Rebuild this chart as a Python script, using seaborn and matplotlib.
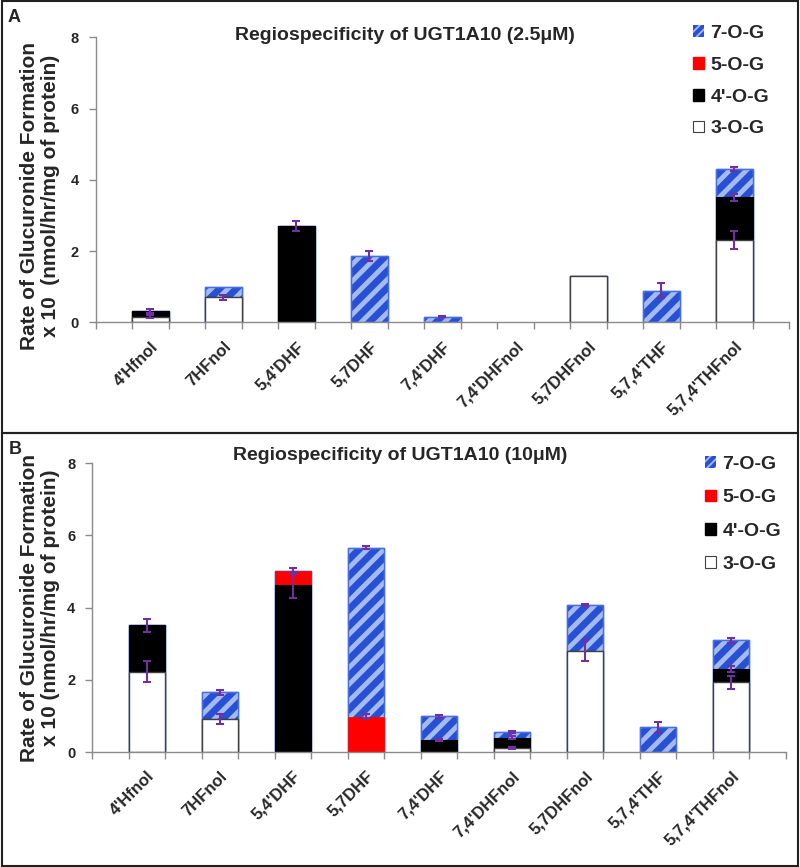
import numpy as np
import pandas as pd
import matplotlib
matplotlib.use("Agg")
import matplotlib.pyplot as plt
import matplotlib.patches as mpatches
import seaborn as sns

# ---------------- data ----------------
categories = ["4'Hfnol", "7HFnol", "5,4'DHF", "5,7DHF", "7,4'DHF",
              "7,4'DHFnol", "5,7DHFnol", "5,7,4'THF", "5,7,4'THFnol"]
series_names = ["3-O-G", "4'-O-G", "5-O-G", "7-O-G"]

# Panel A (2.5 uM) – segment heights
a_3og = [0.16, 0.70, 0.00, 0.00, 0.00, 0.00, 1.30, 0.00, 2.31]
a_4og = [0.15, 0.00, 2.71, 0.00, 0.00, 0.00, 0.00, 0.00, 1.20]
a_5og = [0.00, 0.00, 0.00, 0.00, 0.00, 0.00, 0.00, 0.00, 0.00]
a_7og = [0.00, 0.30, 0.00, 1.86, 0.16, 0.00, 0.00, 0.89, 0.79]
# Panel A errors (at cumulative segment tops)
a_3og_err = [0.04, 0.07, 0.00, 0.00, 0.00, 0.00, 0.00, 0.00, 0.25]
a_4og_err = [0.05, 0.00, 0.14, 0.00, 0.00, 0.00, 0.00, 0.00, 0.10]
a_5og_err = [0.00, 0.00, 0.00, 0.00, 0.00, 0.00, 0.00, 0.00, 0.00]
a_7og_err = [0.00, 0.00, 0.00, 0.15, 0.02, 0.00, 0.00, 0.22, 0.05]

# Panel B (10 uM)
b_3og = [2.23, 0.91, 0.00, 0.00, 0.00, 0.11, 2.81, 0.00, 1.93]
b_4og = [1.28, 0.00, 4.63, 0.00, 0.33, 0.29, 0.00, 0.00, 0.37]
b_5og = [0.00, 0.00, 0.39, 0.98, 0.00, 0.00, 0.00, 0.00, 0.00]
b_7og = [0.00, 0.74, 0.00, 4.68, 0.66, 0.16, 1.26, 0.69, 0.79]
b_3og_err = [0.30, 0.14, 0.00, 0.00, 0.00, 0.02, 0.30, 0.00, 0.18]
b_4og_err = [0.18, 0.00, 0.37, 0.00, 0.02, 0.03, 0.00, 0.00, 0.08]
b_5og_err = [0.00, 0.00, 0.09, 0.07, 0.00, 0.00, 0.00, 0.00, 0.00]
b_7og_err = [0.00, 0.06, 0.00, 0.04, 0.04, 0.03, 0.03, 0.15, 0.08]

y_ticks = [0, 2, 4, 6, 8]
legend_labels = ["7-O-G", "5-O-G", "4'-O-G", "3-O-G"]

# ---------------- style ----------------
sns.set_theme(style="white")
plt.rcParams["font.family"] = ["Liberation Sans", "DejaVu Sans"]
plt.rcParams["font.weight"] = "bold"
plt.rcParams["hatch.linewidth"] = 3.5

BLUE = "#2850d4"
STRIPE = "#a3bbef"
BLUE_EDGE = "#4a6ee0"
ERR = "#7030a0"
AXC = "#8a8a8a"

fig = plt.figure(figsize=(8, 8.67), dpi=100)
W, H = 800.0, 867.0


def fax(x0, y0, x1, y1):
    return fig.add_axes([x0 / W, 1 - y1 / H, (x1 - x0) / W, (y1 - y0) / H])


axA = fax(95.7, 37.3, 789, 322.3)
axB = fax(92, 463.3, 786, 752)


def draw_panel(ax, segs, errs, title, title_xy, ylabel, ylab_xy,
               legend_xy, lspacing):
    segs = np.array(segs)
    errs = np.array(errs)
    cum = np.cumsum(segs, axis=0)
    df = pd.DataFrame({"cat": categories})
    face = ["white", "black", "#ff0000", BLUE]
    edge = ["#404040", "black", "#ff0000", BLUE_EDGE]
    lw = [1.0, 0.8, 0.5, 1.0]
    for i in reversed(range(4)):
        df["v"] = cum[i]
        n0 = len(ax.patches)
        sns.barplot(data=df, x="cat", y="v", order=categories, width=0.5,
                    color=face[i], saturation=1, errorbar=None, ax=ax)
        for p in ax.patches[n0:]:
            p.set_facecolor(face[i])
            p.set_edgecolor(edge[i])
            p.set_linewidth(lw[i])
            if p.get_height() <= 0:
                p.set_visible(False)
        if i == 3:
            # stripe overlay for 7-O-G
            n1 = len(ax.patches)
            sns.barplot(data=df, x="cat", y="v", order=categories, width=0.5,
                        color=BLUE, saturation=1, errorbar=None, ax=ax)
            for p in ax.patches[n1:]:
                p.set_facecolor("none")
                p.set_edgecolor(STRIPE)
                p.set_hatch("//")
                p.set_linewidth(0)
                if p.get_height() <= 0:
                    p.set_visible(False)
            n2 = len(ax.patches)
            sns.barplot(data=df, x="cat", y="v", order=categories, width=0.5,
                        color=BLUE, saturation=1, errorbar=None, ax=ax)
            for p in ax.patches[n2:]:
                p.set_facecolor("none")
                p.set_edgecolor(BLUE_EDGE)
                p.set_linewidth(1.0)
                if p.get_height() <= 0:
                    p.set_visible(False)
    x = np.arange(len(categories))
    for i in range(4):
        m = errs[i] > 0
        if m.any():
            ax.errorbar(x[m], cum[i][m], yerr=errs[i][m], fmt="none",
                        ecolor=ERR, elinewidth=1.5, capsize=3, capthick=1.5,
                        zorder=5)
    ax.set_xlim(-0.75, len(categories) - 0.25)
    ax.set_ylim(0, 8)
    ax.set_yticks(y_ticks)
    ax.set_yticklabels([str(t) for t in y_ticks], fontsize=10.5,
                       fontweight="bold")
    ax.set_xticks(x)
    ax.set_xticklabels(categories, rotation=45, ha="right", va="top",
                       rotation_mode="anchor", fontsize=12, fontweight="bold")
    ax.set_xticks(np.arange(-0.75, len(categories) - 0.2, 0.5), minor=True)
    ax.tick_params(axis="x", which="major", length=0, pad=12)
    ax.tick_params(axis="x", which="minor", length=5, color=AXC, width=1,
                   direction="out", bottom=True)
    ax.tick_params(axis="y", length=5, color=AXC, width=1, direction="out",
                   left=True, pad=7)
    for s in ["top", "right"]:
        ax.spines[s].set_visible(False)
    for s in ["left", "bottom"]:
        ax.spines[s].set_color(AXC)
        ax.spines[s].set_linewidth(1.0)
    ax.set_xlabel("")
    ax.set_ylabel(ylabel, fontsize=15, fontweight="bold", linespacing=1.15)
    ax.yaxis.set_label_coords(*ylab_xy)
    fig.text(title_xy[0] / W, 1 - title_xy[1] / H, title, ha="center",
             va="center", fontsize=14, fontweight="bold")
    with plt.rc_context({"hatch.linewidth": 1.3}):
        handles = [
            mpatches.Patch(facecolor=BLUE, edgecolor=STRIPE, hatch="////",
                           linewidth=0),
            mpatches.Patch(facecolor="#ff0000", edgecolor="#ff0000"),
            mpatches.Patch(facecolor="black", edgecolor="black"),
            mpatches.Patch(facecolor="white", edgecolor="#404040",
                           linewidth=0.8),
        ]
        fig.legend(handles, legend_labels, loc="upper left",
                   bbox_to_anchor=(legend_xy[0] / W, 1 - legend_xy[1] / H),
                   frameon=False, handlelength=0.55, handleheight=0.55,
                   handletextpad=0.35, labelspacing=lspacing,
                   borderpad=0, borderaxespad=0,
                   prop={"weight": "bold", "size": 14})


draw_panel(axA,
           [a_3og, a_4og, a_5og, a_7og],
           [a_3og_err, a_4og_err, a_5og_err, a_7og_err],
           "Regiospecificity of UGT1A10 (2.5\u03bcM)", (405, 35),
           "Rate of Glucuronide Formation\nx 10  (nmol/hr/mg of protein)",
           ((60 - 95.7) / 693.3, 0.443), (693, 25), 0.76)
draw_panel(axB,
           [b_3og, b_4og, b_5og, b_7og],
           [b_3og_err, b_4og_err, b_5og_err, b_7og_err],
           "Regiospecificity of UGT1A10 (10\u03bcM)", (400, 455),
           "Rate of Glucuronide Formation\nx 10 (nmol/hr/mg of protein)",
           ((60 - 92) / 694.0, 0.50), (705, 456), 0.84)

# panel frames
for (y0, y1) in [(1, 433), (433, 865.5)]:
    fig.add_artist(mpatches.Rectangle((1.5 / W, 1 - y1 / H), (797.5 - 1.5) / W,
                                      (y1 - y0) / H, transform=fig.transFigure,
                                      fill=False, edgecolor="#202020",
                                      linewidth=1.5))
fig.text(8 / W, 1 - 17 / H, "A", ha="left", va="center", fontsize=13,
         fontweight="bold")
fig.text(9 / W, 1 - 450 / H, "B", ha="left", va="center", fontsize=13,
         fontweight="bold")

fig.savefig("out.png", dpi=100)
